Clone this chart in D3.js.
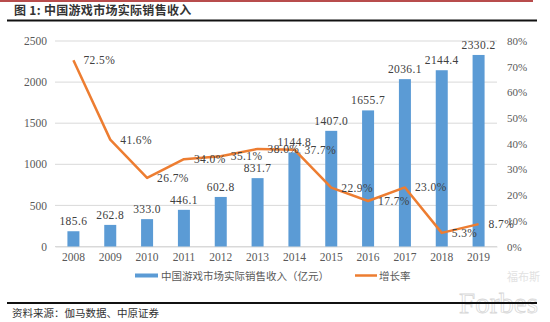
<!DOCTYPE html>
<html><head><meta charset="utf-8">
<script src="https://cdn.jsdelivr.net/npm/d3@7"></script>
<style>
body{margin:0;background:#fff;}
svg{display:block;}
.num{font-family:"Liberation Serif","Times New Roman","DejaVu Serif",serif;}
.cjk{font-family:"Noto Sans CJK SC","Noto Sans",sans-serif;}
</style></head>
<body>
<svg id="c" width="550" height="322"></svg>
<script>
const years = ["2008","2009","2010","2011","2012","2013","2014","2015","2016","2017","2018","2019"];
const revenue = [185.6,262.8,333.0,446.1,602.8,831.7,1144.8,1407.0,1655.7,2036.1,2144.4,2330.2];
const growth = [72.5,41.6,26.7,34.0,35.1,38.0,37.7,22.9,17.7,23.0,5.3,8.7];
const leftTicks = [0,500,1000,1500,2000,2500];
const rightTicks = [0,10,20,30,40,50,60,70,80];
const titleText = "图 1:  中国游戏市场实际销售收入";
const seriesNames = ["中国游戏市场实际销售收入（亿元）","增长率"];
const sourceText = "资料来源：伽马数据、中原证券";

const svg = d3.select("#c");
const grey = "#595959";

const x = d3.scaleBand().domain(years).range([55,497]).paddingInner(0).paddingOuter(0);
const yL = d3.scaleLinear().domain([0,2500]).range([246.5,41]);
const yR = d3.scaleLinear().domain([0,80]).range([246.5,41]);

// top red line
svg.append("line").attr("x1",0).attr("x2",533).attr("y1",1).attr("y2",1).attr("stroke","#a01010").attr("stroke-width",1.5);
// title
svg.append("text").attr("class","cjk").attr("x",14).attr("y",15).text(titleText)
  .attr("font-size",12).attr("font-weight","bold").attr("fill","#333").attr("letter-spacing",0.3);
svg.append("line").attr("x1",7).attr("x2",537).attr("y1",20.5).attr("y2",20.5).attr("stroke","#111").attr("stroke-width",2);

// gridlines
svg.append("g").selectAll("line").data(leftTicks).join("line")
  .attr("x1",55).attr("x2",497).attr("y1",d=>yL(d)).attr("y2",d=>yL(d))
  .attr("stroke","#d9d9d9").attr("stroke-width",1);

// left axis
const axL = svg.append("g").attr("transform","translate(47,0)")
  .call(d3.axisLeft(yL).tickValues(leftTicks).tickSize(0).tickPadding(0).tickFormat(d3.format("d")));
axL.attr("font-family",null).attr("font-size",null);
axL.select(".domain").remove();
axL.selectAll("text").attr("class","num").attr("font-size",11.5).attr("fill",grey);

// right axis
const axR = svg.append("g").attr("transform","translate(507,0)")
  .call(d3.axisRight(yR).tickValues(rightTicks).tickSize(0).tickPadding(0).tickFormat(d=>d+"%"));
axR.attr("font-family",null).attr("font-size",null);
axR.select(".domain").remove();
axR.selectAll("text").attr("class","num").attr("font-size",11).attr("fill",grey);

// bottom axis
const axB = svg.append("g").attr("transform","translate(0,246.5)")
  .call(d3.axisBottom(x).tickSize(0).tickPadding(6));
axB.attr("font-family",null).attr("font-size",null);
axB.select(".domain").attr("stroke","#d9d9d9");
axB.selectAll("text").attr("class","num").attr("font-size",11.5).attr("fill",grey);

// bars
const bw = 12;
svg.append("g").selectAll("rect").data(years).join("rect")
  .attr("x",(d)=>x(d)+x.bandwidth()/2-bw/2).attr("width",bw)
  .attr("y",(d,i)=>yL(revenue[i])).attr("height",(d,i)=>yL(0)-yL(revenue[i]))
  .attr("fill","#5B9BD5");

// bar labels
svg.append("g").selectAll("text").data(years).join("text")
  .attr("class","num")
  .attr("x",d=>x(d)+x.bandwidth()/2).attr("y",(d,i)=>yL(revenue[i])-6)
  .attr("text-anchor","middle").attr("font-size",11.5).attr("fill","#404040")
  .attr("letter-spacing",0.4)
  .text((d,i)=>revenue[i].toFixed(1));

// line
const line = d3.line().x((d,i)=>x(years[i])+x.bandwidth()/2).y(d=>yR(d));
svg.append("path").datum(growth).attr("d",line).attr("fill","none")
  .attr("stroke","#ED7D31").attr("stroke-width",2.5).attr("stroke-linejoin","round");

// line labels
svg.append("g").selectAll("text").data(growth).join("text")
  .attr("class","num")
  .attr("x",(d,i)=>x(years[i])+x.bandwidth()/2+10).attr("y",d=>yR(d)+4)
  .attr("font-size",11.5).attr("fill","#404040").attr("letter-spacing",0.4)
  .text(d=>d.toFixed(1)+"%");

// legend
const lg = svg.append("g");
lg.append("rect").attr("x",135).attr("y",273.5).attr("width",23).attr("height",4).attr("fill","#5B9BD5");
lg.append("text").attr("class","cjk").attr("x",161).attr("y",279.5).text(seriesNames[0])
  .attr("font-size",10.5).attr("fill",grey);
lg.append("line").attr("x1",355).attr("x2",377).attr("y1",275.5).attr("y2",275.5).attr("stroke","#ED7D31").attr("stroke-width",2.5);
lg.append("text").attr("class","cjk").attr("x",379).attr("y",279.5).text(seriesNames[1])
  .attr("font-size",10.5).attr("fill",grey);

// watermark
svg.append("text").attr("class","cjk").attr("x",540).attr("y",281).attr("text-anchor","end").text("福布斯")
  .attr("font-size",11).attr("fill","#e2e2e2");
svg.append("text").attr("class","num").attr("x",538).attr("y",313).attr("text-anchor","end").text("Forbes")
  .attr("font-size",29).attr("fill","none").attr("stroke","#d8d8d8").attr("stroke-width",0.8);

// bottom rule and source
svg.append("line").attr("x1",7).attr("x2",537).attr("y1",303).attr("y2",303).attr("stroke","#111").attr("stroke-width",2);
svg.append("text").attr("class","cjk").attr("x",12).attr("y",317).text(sourceText)
  .attr("font-size",10.5).attr("fill","#333");
</script>
</body></html>
